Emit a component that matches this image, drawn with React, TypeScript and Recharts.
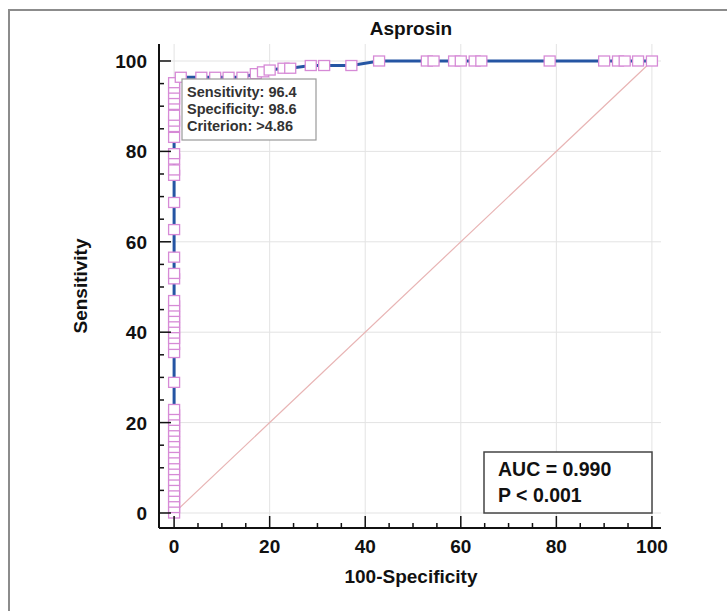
import React from "react";
import {
  CartesianGrid,
  ComposedChart,
  Line,
  ReferenceLine,
  XAxis,
  YAxis,
} from "recharts";

// ROC points at 100-Specificity = 0 (sensitivity climbs straight up)
const zeroFprSensitivity = [
  0, 1.2, 2.4, 3.6, 4.8, 6.0, 7.2, 8.4, 9.6, 10.8, 12.0, 13.3, 14.5, 15.7,
  16.9, 18.1, 19.3, 20.5, 21.7, 22.9, 28.9, 35.5, 37.3, 38.6, 39.8, 41.0,
  42.2, 43.4, 44.6, 45.8, 47.0, 51.8, 53.0, 56.6, 62.7, 68.7, 74.7, 75.9,
  78.3, 79.5, 83.1, 85.5, 86.7, 88.0, 90.4, 91.6, 92.8, 94.0, 95.2,
];

// the rest of the curve along the top
const topFpr = [
  1.4, 5.7, 8.6, 11.4, 14.3, 17.1, 18.6, 20.0, 22.9, 24.3, 28.6, 31.4, 37.1,
  42.9, 52.9, 54.3, 58.6, 60.0, 62.9, 64.3, 78.6, 90.0, 92.9, 94.3, 97.1,
  100,
];
const topSensitivity = [
  96.4, 96.4, 96.4, 96.4, 96.4, 97.2, 97.6, 98.0, 98.4, 98.4, 99.0, 99.0,
  99.0, 100, 100, 100, 100, 100, 100, 100, 100, 100, 100, 100, 100, 100,
];

const axisTicks = [
  0, 5, 10, 15, 20, 25, 30, 35, 40, 45, 50, 55, 60, 65, 70, 75, 80, 85, 90,
  95, 100,
];
const gridValues = [0, 20, 40, 60, 80, 100];

const rocData = [
  ...zeroFprSensitivity.map((s) => ({ x: 0, y: s })),
  ...topFpr.map((f, i) => ({ x: f, y: topSensitivity[i] })),
];

const FONT = "'Liberation Sans', Arial, sans-serif";
const LINE_BLUE = "#2555a3";
const MARKER = "#d68ad6";

const XTick = (props: any) => {
  const { x, y, payload } = props;
  const v = payload.value;
  const major = v % 20 === 0;
  return (
    <g>
      <line x1={x} y1={y} x2={x} y2={y - (major ? 12 : 5)} stroke="#111" strokeWidth={1.5} />
      {major && (
        <text x={x} y={y + 25} textAnchor="middle" fontFamily={FONT} fontWeight="bold" fontSize={19} fill="#111">
          {v}
        </text>
      )}
    </g>
  );
};

const YTick = (props: any) => {
  const { x, y, payload } = props;
  const v = payload.value;
  const major = v % 20 === 0;
  return (
    <g>
      <line x1={x} y1={y} x2={x + (major ? 12 : 5)} y2={y} stroke="#111" strokeWidth={1.5} />
      {major && (
        <text x={x - 12} y={y + 7} textAnchor="end" fontFamily={FONT} fontWeight="bold" fontSize={19} fill="#111">
          {v}
        </text>
      )}
    </g>
  );
};

const SquareDot = (p: any) => (
  <rect
    key={`d-${p.index}`}
    x={p.cx - 5.5}
    y={p.cy - 5}
    width={11}
    height={10}
    fill="#fff"
    stroke={MARKER}
    strokeWidth={1.3}
  />
);

export default function App() {
  return (
    <div style={{ position: "absolute", left: 0, top: 0, width: 727, height: 611, background: "#fff", overflow: "hidden" }}>
      <div
        style={{
          position: "absolute",
          left: 8,
          top: 9,
          width: 719,
          height: 602,
          borderTop: "2px solid #8c8c8c",
          borderLeft: "2px solid #8c8c8c",
          boxSizing: "border-box",
        }}
      />
      <div style={{ position: "absolute", left: 0, top: 0 }}>
        <ComposedChart
          width={727}
          height={611}
          data={rocData}
          margin={{ top: 44, right: 66, bottom: 53, left: 0 }}
        >
          <CartesianGrid
            stroke="#e3e3e3"
            horizontalValues={gridValues}
            verticalValues={gridValues}
          />
          <XAxis
            dataKey="x"
            type="number"
            domain={[-3.16, 101.9]}
            allowDataOverflow
            ticks={axisTicks}
            interval={0}
            height={30}
            tickSize={0}
            tickMargin={0}
            tickLine={false}
            axisLine={{ stroke: "#111", strokeWidth: 2 }}
            tick={<XTick />}
          />
          <YAxis
            type="number"
            domain={[-3.32, 103.76]}
            allowDataOverflow
            ticks={axisTicks}
            interval={0}
            width={159}
            tickSize={0}
            tickMargin={0}
            tickLine={false}
            axisLine={{ stroke: "#111", strokeWidth: 2 }}
            tick={<YTick />}
          />
          <ReferenceLine
            segment={[
              { x: 0, y: 0 },
              { x: 100, y: 100 },
            ]}
            stroke="#e8b4b4"
            strokeWidth={1.2}
          />
          <Line
            type="linear"
            dataKey="y"
            stroke={LINE_BLUE}
            strokeWidth={3}
            dot={SquareDot}
            activeDot={false}
            isAnimationActive={false}
          />
        </ComposedChart>
      </div>
      <svg width={727} height={611} style={{ position: "absolute", left: 0, top: 0, pointerEvents: "none" }}>
        <text x={411} y={35} textAnchor="middle" fontFamily={FONT} fontWeight="bold" fontSize={19} fill="#111">
          Asprosin
        </text>
        <text x={411} y={583} textAnchor="middle" fontFamily={FONT} fontWeight="bold" fontSize={19} fill="#111">
          100-Specificity
        </text>
        <text
          x={87}
          y={286}
          transform="rotate(-90 87 286)"
          textAnchor="middle"
          fontFamily={FONT}
          fontWeight="bold"
          fontSize={19}
          fill="#111"
        >
          Sensitivity
        </text>
        <rect x={182} y={79} width={134} height={61} fill="#fff" stroke="#9a9a9a" strokeWidth={1.2} />
        <text fontFamily={FONT} fontWeight="bold" fontSize={14.5} fill="#333">
          <tspan x={187} y={97}>Sensitivity: 96.4</tspan>
          <tspan x={187} y={114}>Specificity: 98.6</tspan>
          <tspan x={187} y={131}>Criterion: &gt;4.86</tspan>
        </text>
        <rect x={484} y={452} width={168} height={61} fill="#fff" stroke="#444" strokeWidth={1.5} />
        <text fontFamily={FONT} fontWeight="bold" fontSize={19.5} fill="#111">
          <tspan x={498} y={476}>AUC = 0.990</tspan>
          <tspan x={498} y={502}>P &lt; 0.001</tspan>
        </text>
      </svg>
    </div>
  );
}
